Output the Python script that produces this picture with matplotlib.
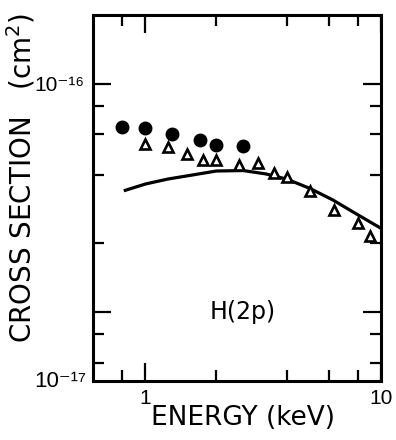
import matplotlib
matplotlib.use('Agg')
import matplotlib.pyplot as plt

plt.rcParams['font.family'] = ['DejaVu Sans']

# filled circles
circ_e = [0.8, 1.0, 1.3, 1.7, 2.0, 2.6]
circ_s = [6.45e-17, 6.4e-17, 6.05e-17, 5.7e-17, 5.4e-17, 5.35e-17]

# open triangles
tri_e = [1.0, 1.25, 1.5, 1.75, 2.0, 2.5, 3.0, 3.5, 4.0, 5.0, 6.3, 8.0, 9.0]
tri_s = [5.45e-17, 5.3e-17, 4.95e-17, 4.65e-17, 4.65e-17, 4.4e-17, 4.5e-17,
         4.05e-17, 3.9e-17, 3.4e-17, 2.8e-17, 2.45e-17, 2.15e-17]

# theory curve
curve_e = [0.81, 1.0, 1.25, 1.5, 2.0, 2.6, 3.25, 4.0, 5.0, 6.25, 7.6, 10.0]
curve_s = [3.4e-17, 3.64e-17, 3.83e-17, 3.95e-17, 4.15e-17, 4.17e-17, 4.03e-17,
           3.82e-17, 3.48e-17, 3.1e-17, 2.75e-17, 2.33e-17]

xmajor = [1, 10]
xmajor_labels = ['1', '10']
xminor = [0.8, 2, 4, 6, 8]
ymajor = [1e-17, 1e-16]
ymajor_labels = ['', '10\u207b\u00b9\u2076']
yminor = [6e-18, 8e-18, 2e-17, 4e-17, 6e-17, 8e-17]

tick_font = ['Liberation Sans', 'DejaVu Sans']

fig = plt.figure(figsize=(3.96, 4.4), dpi=100)
ax = fig.add_axes([0.235, 0.134, 0.727, 0.832])

ax.plot(curve_e, curve_s, color='black', lw=2.3, solid_capstyle='butt')
ax.plot(circ_e, circ_s, 'o', color='black', ms=9, mec='black')
ax.plot(tri_e, tri_s, '^', mfc='white', mec='black', mew=1.9, ms=7.5)

ax.set_xscale('log')
ax.set_yscale('log')
ax.set_xlim(0.6, 10)
ax.set_ylim(5e-18, 2e-16)

ax.set_xticks(xmajor)
ax.set_xticklabels(xmajor_labels, family=tick_font)
ax.set_xticks(xminor, minor=True)
ax.set_xticklabels([], minor=True)
ax.set_yticks(ymajor)
ax.set_yticklabels(ymajor_labels, family=tick_font, fontsize=16)
ax.set_yticks(yminor, minor=True)
ax.set_yticklabels([], minor=True)

ax.tick_params(which='both', direction='in', top=True, right=True, width=1.6)
ax.tick_params(which='major', length=13, labelsize=15, pad=6)
ax.tick_params(which='minor', length=8)
for sp in ax.spines.values():
    sp.set_linewidth(2.2)

# 10^-17 label sits at the bottom corner
ax.text(-0.025, 0.0, '10\u207b\u00b9\u2077', transform=ax.transAxes,
        ha='right', va='center', fontsize=16, family=tick_font)

ax.text(2.6, 1e-17, 'H(2p)', ha='center', va='center', fontsize=17)

ax.set_xlabel('ENERGY (keV)', fontsize=19, va='center')
ax.xaxis.set_label_coords(0.52, -0.1)
ax.set_ylabel('CROSS SECTION   (cm$^2$)', fontsize=20, va='center')
ax.yaxis.set_label_coords(-0.25, 0.555)

fig.savefig('out.png', dpi=100)
